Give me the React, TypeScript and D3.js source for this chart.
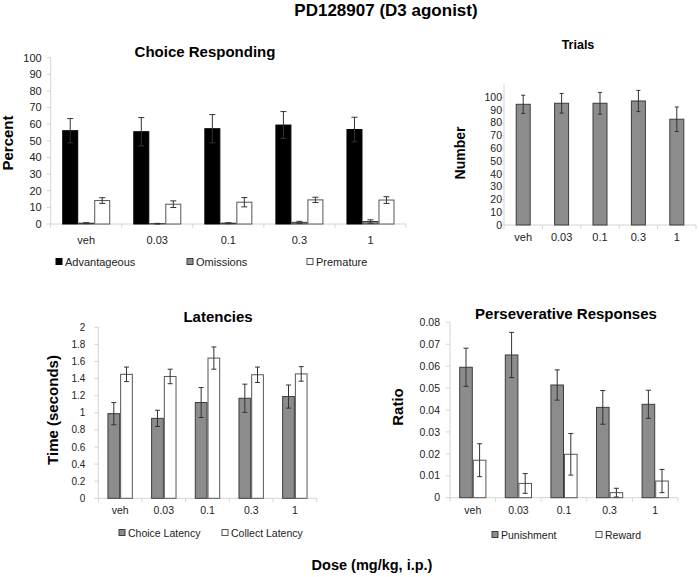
import React from "react";
import * as d3 from "d3";

const categories = ["veh", "0.03", "0.1", "0.3", "1"];

// Choice Responding (%)
const advantageous = [56.1, 55.5, 57.3, 59.5, 56.8];
const advantageousErr = [7.3, 8.5, 8.5, 8.1, 7.4];
const omissions = [0.5, 0.2, 0.5, 1.0, 1.5];
const omissionsErr = [0.3, 0.2, 0.3, 0.6, 1.0];
const premature = [14.1, 11.9, 13.1, 14.5, 14.4];
const prematureErr = [1.7, 2.0, 2.8, 1.6, 2.0];
const choiceTicks = [0, 10, 20, 30, 40, 50, 60, 70, 80, 90, 100];

// Trials (number)
const trials = [94.5, 95.3, 95.3, 97.1, 82.8];
const trialsErr = [7.1, 7.7, 8.5, 8.3, 9.6];
const trialsTicks = [0, 10, 20, 30, 40, 50, 60, 70, 80, 90, 100];

// Latencies (s)
const choiceLatency = [0.99, 0.935, 1.12, 1.17, 1.19];
const choiceLatencyErr = [0.13, 0.095, 0.175, 0.165, 0.135];
const collectLatency = [1.45, 1.425, 1.64, 1.445, 1.455];
const collectLatencyErr = [0.085, 0.085, 0.13, 0.09, 0.085];
const latencyTicks = ["0", "0.2", "0.4", "0.6", "0.8", "1", "1.2", "1.4", "1.6", "1.8", "2"];

// Perseverative responses (ratio)
const punishment = [0.0595, 0.0651, 0.0514, 0.0412, 0.0426];
const punishmentErr = [0.0087, 0.0103, 0.0069, 0.0077, 0.0064];
const reward = [0.0171, 0.0065, 0.0198, 0.0023, 0.0076];
const rewardErr = [0.0075, 0.0045, 0.0095, 0.002, 0.0053];
const ratioTicks = ["0", "0.01", "0.02", "0.03", "0.04", "0.05", "0.06", "0.07", "0.08"];

const FONT = "'Liberation Sans', Arial, sans-serif";
const AXIS = "#d4d4d4";
const GRAY = "#8c8c8c";
const DARK = "#3c3c3c";
const ERR = "#333";

type Series = { values: number[]; errs: number[]; fill: string; stroke: string };

function Panel(props: {
  x0: number; x1: number; yB: number; yT: number; max: number;
  ticks: (number | string)[]; series: Series[]; barW: number; cap: number;
  tickFs: number; catY: number; catFs: number; tickGap: number;
}) {
  const { x0, x1, yB, yT, max, ticks, series, barW, cap, tickFs, catY, catFs, tickGap } = props;
  const x = d3.scaleBand<string>().domain(categories).range([x0, x1]);
  const y = d3.scaleLinear().domain([0, max]).range([yB, yT]);
  const bw = x.bandwidth();
  const gw = barW * series.length;
  const xs = d3.scaleBand<number>().domain(d3.range(series.length)).range([0, gw]);
  const bounds = d3.range(categories.length + 1).map((i) => x0 + i * bw);
  return (
    <g>
      <line x1={x0} x2={x0} y1={yB} y2={y(max)} stroke={AXIS} />
      {ticks.map((t) => {
        const v = +t;
        return (
          <g key={String(t)}>
            <line x1={x0 - 4} x2={x0} y1={y(v)} y2={y(v)} stroke={AXIS} />
            <text x={x0 - tickGap} y={y(v)} dy="0.35em" textAnchor="end" fontSize={tickFs} fill="#222">
              {String(t)}
            </text>
          </g>
        );
      })}
      <line x1={x0} x2={x1} y1={yB} y2={yB} stroke={AXIS} />
      {bounds.map((b, i) => (
        <line key={i} x1={b} x2={b} y1={yB} y2={yB + 4} stroke={AXIS} />
      ))}
      {categories.map((c) => (
        <text key={c} x={(x(c) as number) + bw / 2} y={catY} dy="0.35em" textAnchor="middle" fontSize={catFs} fill="#222">
          {c}
        </text>
      ))}
      {series.map((s, si) =>
        categories.map((c, ci) => {
          const bx = (x(c) as number) + (bw - gw) / 2 + (xs(si) as number);
          const top = y(s.values[ci]);
          return (
            <rect key={`${si}-${ci}`} x={bx + 0.5} y={top} width={barW - 1} height={Math.max(0, yB - top)}
              fill={s.fill} stroke={s.stroke} strokeWidth={1} />
          );
        })
      )}
      {series.map((s, si) =>
        categories.map((c, ci) => {
          const cx = (x(c) as number) + (bw - gw) / 2 + (xs(si) as number) + barW / 2;
          const hi = y(s.values[ci] + s.errs[ci]);
          const lo = y(Math.max(0, s.values[ci] - s.errs[ci]));
          return (
            <g key={`e${si}-${ci}`} stroke={ERR} strokeWidth={1}>
              <line x1={cx} x2={cx} y1={hi} y2={lo} />
              <line x1={cx - cap / 2} x2={cx + cap / 2} y1={hi} y2={hi} />
              <line x1={cx - cap / 2} x2={cx + cap / 2} y1={lo} y2={lo} />
            </g>
          );
        })
      )}
    </g>
  );
}

function LegendItem({ x, y, label, fill, stroke, fs }: { x: number; y: number; label: string; fill: string; stroke: string; fs: number }) {
  return (
    <g>
      <rect x={x} y={y - 3.5} width={6} height={6} fill={fill} stroke={stroke} />
      <text x={x + 9} y={y} dy="0.35em" fontSize={fs} fill="#222">{label}</text>
    </g>
  );
}

function YLabel({ x, y, text, fs }: { x: number; y: number; text: string; fs: number }) {
  return (
    <text transform={`translate(${x},${y}) rotate(-90)`} textAnchor="middle" dy="0.35em" fontSize={fs} fontWeight="bold" fill="#000">
      {text}
    </text>
  );
}

export default function App() {
  return (
    <svg width={699} height={577} style={{ position: "absolute", left: 0, top: 0, background: "#fff" }} fontFamily={FONT}>
      <rect width={699} height={577} fill="#fff" />
      <text x={386} y={16} textAnchor="middle" fontSize={17} fontWeight="bold">PD128907 (D3 agonist)</text>

      {/* Choice Responding */}
      <text x={205} y={57} textAnchor="middle" fontSize={15} fontWeight="bold">Choice Responding</text>
      <YLabel x={8} y={143} text="Percent" fs={15} />
      <Panel x0={50.7} x1={406} yB={224} yT={57.7} max={100} ticks={choiceTicks}
        series={[
          { values: advantageous, errs: advantageousErr, fill: "#000", stroke: "#000" },
          { values: omissions, errs: omissionsErr, fill: GRAY, stroke: DARK },
          { values: premature, errs: prematureErr, fill: "#fff", stroke: "#555" },
        ]}
        barW={16} cap={6} tickFs={11} catY={240} catFs={11} tickGap={9} />
      <LegendItem x={56} y={262} label="Advantageous" fill="#000" stroke="#000" fs={11} />
      <LegendItem x={187} y={262} label="Omissions" fill={GRAY} stroke={DARK} fs={11} />
      <LegendItem x={307} y={262} label="Premature" fill="#fff" stroke="#555" fs={11} />

      {/* Trials */}
      <text x={578} y={48.5} textAnchor="middle" fontSize={12.5} fontWeight="bold">Trials</text>
      <YLabel x={460} y={153} text="Number" fs={14} />
      <Panel x0={504} x1={696} yB={225} yT={84.5} max={110} ticks={trialsTicks}
        series={[{ values: trials, errs: trialsErr, fill: GRAY, stroke: DARK }]}
        barW={15} cap={4} tickFs={10.5} catY={236.7} catFs={11} tickGap={2} />

      {/* Latencies */}
      <text x={218} y={322} textAnchor="middle" fontSize={15} fontWeight="bold">Latencies</text>
      <YLabel x={53} y={410} text="Time (seconds)" fs={15} />
      <Panel x0={98.3} x1={316.7} yB={498.3} yT={327.3} max={2} ticks={latencyTicks}
        series={[
          { values: choiceLatency, errs: choiceLatencyErr, fill: GRAY, stroke: DARK },
          { values: collectLatency, errs: collectLatencyErr, fill: "#fff", stroke: "#555" },
        ]}
        barW={12.7} cap={5} tickFs={10} catY={510.7} catFs={10.5} tickGap={13} />
      <LegendItem x={119} y={533} label="Choice Latency" fill={GRAY} stroke={DARK} fs={10.5} />
      <LegendItem x={222} y={533} label="Collect Latency" fill="#fff" stroke="#555" fs={10.5} />

      {/* Perseverative Responses */}
      <text x={566} y={319} textAnchor="middle" fontSize={15} fontWeight="bold">Perseverative Responses</text>
      <YLabel x={398} y={407} text="Ratio" fs={15} />
      <Panel x0={450} x1={678} yB={497.7} yT={322.3} max={0.08} ticks={ratioTicks}
        series={[
          { values: punishment, errs: punishmentErr, fill: GRAY, stroke: DARK },
          { values: reward, errs: rewardErr, fill: "#fff", stroke: "#555" },
        ]}
        barW={13.6} cap={5} tickFs={10.5} catY={510} catFs={10.5} tickGap={10} />
      <LegendItem x={492} y={535} label="Punishment" fill={GRAY} stroke={DARK} fs={10.5} />
      <LegendItem x={596} y={535} label="Reward" fill="#fff" stroke="#555" fs={10.5} />

      <text x={372} y={570} textAnchor="middle" fontSize={14.5} fontWeight="bold">Dose (mg/kg, i.p.)</text>
    </svg>
  );
}
